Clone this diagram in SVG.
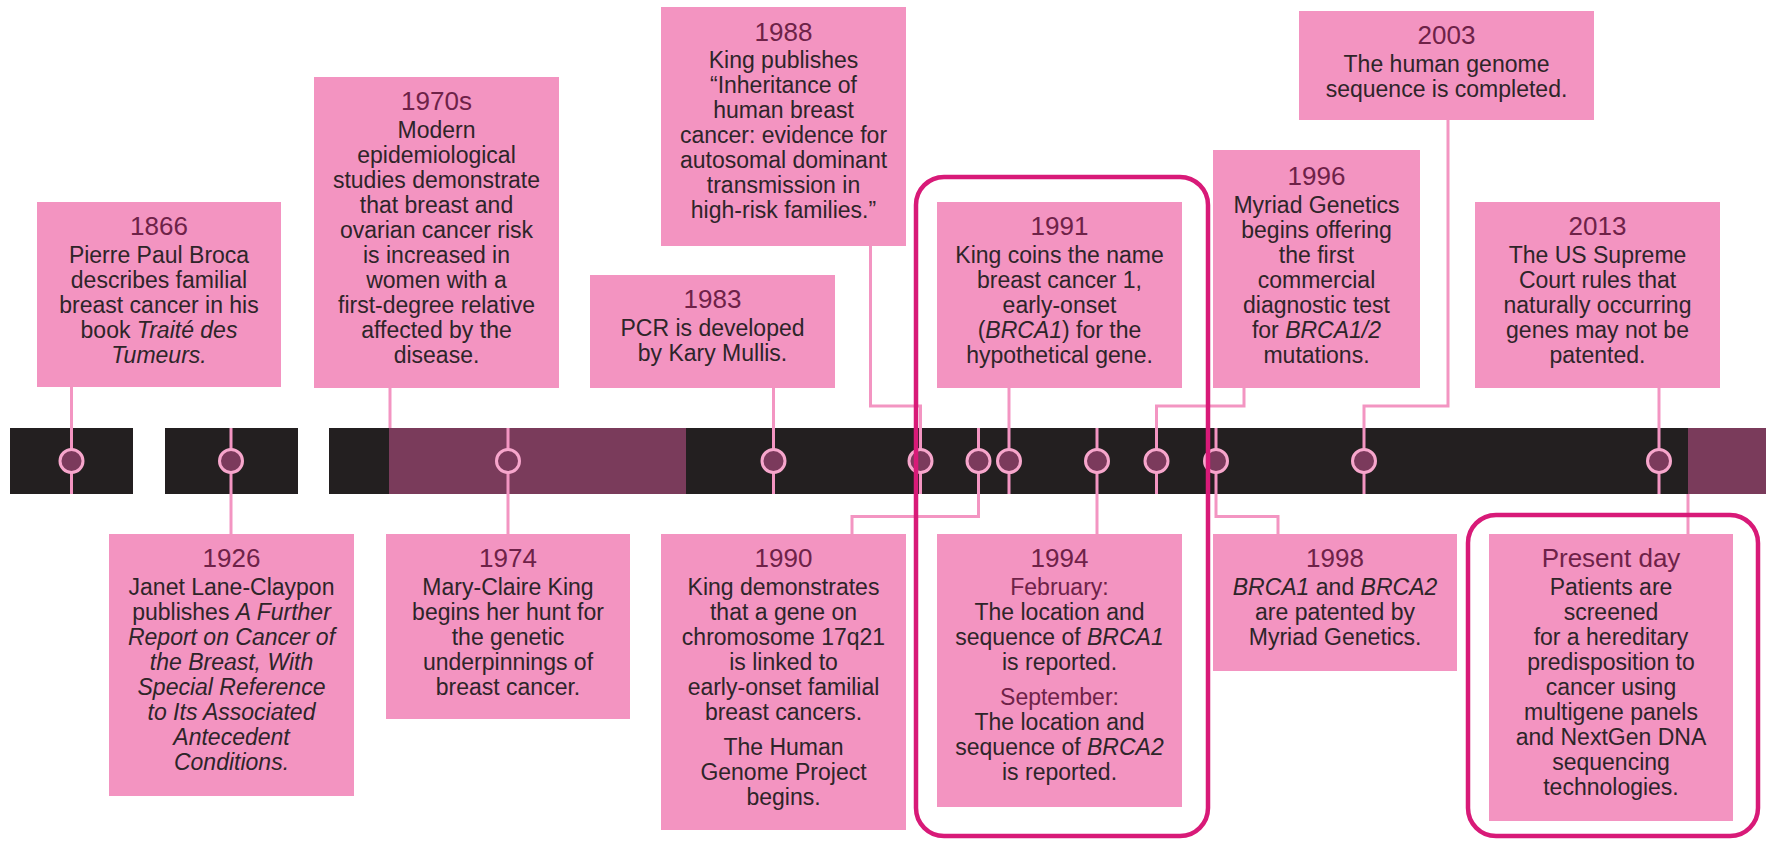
<svg xmlns="http://www.w3.org/2000/svg" width="1771" height="841" viewBox="0 0 1771 841">
<style>
.box{fill:#f394c1}
.yr{font-family:"Liberation Sans",Arial,sans-serif;font-size:26px;fill:#6e2248;text-anchor:middle}
.bd{font-family:"Liberation Sans",Arial,sans-serif;font-size:23px;fill:#2e2529;text-anchor:middle}
.mo{fill:#6e2248}
.it{font-style:italic}
.con{fill:none;stroke:#f395c2;stroke-width:3}
.dot{fill:#7b3a5c;stroke:#f7a6cc;stroke-width:3}
.hl{fill:none;stroke:#d81a78;stroke-width:4.5}
.blk{fill:#231f20}
.pur{fill:#7a3b5b}
</style>
<rect width="1771" height="841" fill="#ffffff"/>
<g id="bar">
<rect class="blk" x="10" y="428" width="123" height="66"/>
<rect class="blk" x="165" y="428" width="133" height="66"/>
<rect class="blk" x="329" y="428" width="60" height="66"/>
<rect class="pur" x="389" y="428" width="297" height="66"/>
<rect class="blk" x="686" y="428" width="1002" height="66"/>
<rect class="pur" x="1688" y="428" width="78" height="66"/>
</g>
<g id="connectors">
<path class="con" d="M71.5,387V494"/>
<path class="con" d="M231,428V534"/>
<path class="con" d="M390,387V428"/>
<path class="con" d="M508,428V534"/>
<path class="con" d="M773.5,388V494"/>
<path class="con" d="M870.5,246V406H920.5V494"/>
<path class="con" d="M978.5,428V516.5H852V534"/>
<path class="con" d="M1009,388V494"/>
<path class="con" d="M1097,428V534"/>
<path class="con" d="M1244,388V406H1156.5V494"/>
<path class="con" d="M1216,428V516.5H1278V534"/>
<path class="con" d="M1448,120V406H1364V494"/>
<path class="con" d="M1659,388V494"/>
<path class="con" d="M1688,494V534"/>
<circle class="dot" cx="71.5" cy="461" r="11.5"/>
<circle class="dot" cx="231" cy="461" r="11.5"/>
<circle class="dot" cx="508" cy="461" r="11.5"/>
<circle class="dot" cx="773.5" cy="461" r="11.5"/>
<circle class="dot" cx="920.5" cy="461" r="11.5"/>
<circle class="dot" cx="978.5" cy="461" r="11.5"/>
<circle class="dot" cx="1009" cy="461" r="11.5"/>
<circle class="dot" cx="1097" cy="461" r="11.5"/>
<circle class="dot" cx="1156.5" cy="461" r="11.5"/>
<circle class="dot" cx="1216" cy="461" r="11.5"/>
<circle class="dot" cx="1364" cy="461" r="11.5"/>
<circle class="dot" cx="1659" cy="461" r="11.5"/>
</g>
<g id="n1866">
<rect class="box" x="37" y="202" width="244" height="185"/>
<text class="yr" x="159" y="235">1866</text>
<text class="bd"><tspan x="159" y="263">Pierre Paul Broca</tspan><tspan x="159" y="288">describes familial</tspan><tspan x="159" y="313">breast cancer in his</tspan><tspan x="159" y="338">book <tspan class="it">Traité des</tspan></tspan><tspan x="159" y="363" class="it">Tumeurs.</tspan></text>
</g>
<g id="n1970s">
<rect class="box" x="314" y="77" width="245" height="311"/>
<text class="yr" x="436.5" y="110">1970s</text>
<text class="bd"><tspan x="436.5" y="138">Modern</tspan><tspan x="436.5" y="163">epidemiological</tspan><tspan x="436.5" y="188">studies demonstrate</tspan><tspan x="436.5" y="213">that breast and</tspan><tspan x="436.5" y="238">ovarian cancer risk</tspan><tspan x="436.5" y="263">is increased in</tspan><tspan x="436.5" y="288">women with a</tspan><tspan x="436.5" y="313">first-degree relative</tspan><tspan x="436.5" y="338">affected by the</tspan><tspan x="436.5" y="363">disease.</tspan></text>
</g>
<g id="n1983">
<rect class="box" x="590" y="275" width="245" height="113"/>
<text class="yr" x="712.5" y="308">1983</text>
<text class="bd"><tspan x="712.5" y="336">PCR is developed</tspan><tspan x="712.5" y="361">by Kary Mullis.</tspan></text>
</g>
<g id="n1988">
<rect class="box" x="661" y="7" width="245" height="239"/>
<text class="yr" x="783.5" y="41">1988</text>
<text class="bd"><tspan x="783.5" y="68">King publishes</tspan><tspan x="783.5" y="93">“Inheritance of</tspan><tspan x="783.5" y="118">human breast</tspan><tspan x="783.5" y="143">cancer: evidence for</tspan><tspan x="783.5" y="168">autosomal dominant</tspan><tspan x="783.5" y="193">transmission in</tspan><tspan x="783.5" y="218">high-risk families.”</tspan></text>
</g>
<g id="n1991">
<rect class="box" x="937" y="202" width="245" height="186"/>
<text class="yr" x="1059.5" y="235">1991</text>
<text class="bd"><tspan x="1059.5" y="263">King coins the name</tspan><tspan x="1059.5" y="288">breast cancer 1,</tspan><tspan x="1059.5" y="313">early-onset</tspan><tspan x="1059.5" y="338">(<tspan class="it">BRCA1</tspan>) for the</tspan><tspan x="1059.5" y="363">hypothetical gene.</tspan></text>
</g>
<g id="n1996">
<rect class="box" x="1213" y="150" width="207" height="238"/>
<text class="yr" x="1316.5" y="185">1996</text>
<text class="bd"><tspan x="1316.5" y="213">Myriad Genetics</tspan><tspan x="1316.5" y="238">begins offering</tspan><tspan x="1316.5" y="263">the first</tspan><tspan x="1316.5" y="288">commercial</tspan><tspan x="1316.5" y="313">diagnostic test</tspan><tspan x="1316.5" y="338">for <tspan class="it">BRCA1/2</tspan></tspan><tspan x="1316.5" y="363">mutations.</tspan></text>
</g>
<g id="n2003">
<rect class="box" x="1299" y="11" width="295" height="109"/>
<text class="yr" x="1446.5" y="44">2003</text>
<text class="bd"><tspan x="1446.5" y="72">The human genome</tspan><tspan x="1446.5" y="97">sequence is completed.</tspan></text>
</g>
<g id="n2013">
<rect class="box" x="1475" y="202" width="245" height="186"/>
<text class="yr" x="1597.5" y="235">2013</text>
<text class="bd"><tspan x="1597.5" y="263">The US Supreme</tspan><tspan x="1597.5" y="288">Court rules that</tspan><tspan x="1597.5" y="313">naturally occurring</tspan><tspan x="1597.5" y="338">genes may not be</tspan><tspan x="1597.5" y="363">patented.</tspan></text>
</g>
<g id="n1926">
<rect class="box" x="109" y="534" width="245" height="262"/>
<text class="yr" x="231.5" y="567">1926</text>
<text class="bd"><tspan x="231.5" y="595">Janet Lane-Claypon</tspan><tspan x="231.5" y="620">publishes <tspan class="it">A Further</tspan></tspan><tspan x="231.5" y="645" class="it">Report on Cancer of</tspan><tspan x="231.5" y="670" class="it">the Breast, With</tspan><tspan x="231.5" y="695" class="it">Special Reference</tspan><tspan x="231.5" y="720" class="it">to Its Associated</tspan><tspan x="231.5" y="745" class="it">Antecedent</tspan><tspan x="231.5" y="770" class="it">Conditions.</tspan></text>
</g>
<g id="n1974">
<rect class="box" x="386" y="534" width="244" height="185"/>
<text class="yr" x="508" y="567">1974</text>
<text class="bd"><tspan x="508" y="595">Mary-Claire King</tspan><tspan x="508" y="620">begins her hunt for</tspan><tspan x="508" y="645">the genetic</tspan><tspan x="508" y="670">underpinnings of</tspan><tspan x="508" y="695">breast cancer.</tspan></text>
</g>
<g id="n1990">
<rect class="box" x="661" y="534" width="245" height="296"/>
<text class="yr" x="783.5" y="567">1990</text>
<text class="bd"><tspan x="783.5" y="595">King demonstrates</tspan><tspan x="783.5" y="620">that a gene on</tspan><tspan x="783.5" y="645">chromosome 17q21</tspan><tspan x="783.5" y="670">is linked to</tspan><tspan x="783.5" y="695">early-onset familial</tspan><tspan x="783.5" y="720">breast cancers.</tspan><tspan x="783.5" y="755">The Human</tspan><tspan x="783.5" y="780">Genome Project</tspan><tspan x="783.5" y="805">begins.</tspan></text>
</g>
<g id="n1994">
<rect class="box" x="937" y="534" width="245" height="273"/>
<text class="yr" x="1059.5" y="567">1994</text>
<text class="bd"><tspan x="1059.5" y="595" class="mo">February:</tspan><tspan x="1059.5" y="620">The location and</tspan><tspan x="1059.5" y="645">sequence of <tspan class="it">BRCA1</tspan></tspan><tspan x="1059.5" y="670">is reported.</tspan><tspan x="1059.5" y="705" class="mo">September:</tspan><tspan x="1059.5" y="730">The location and</tspan><tspan x="1059.5" y="755">sequence of <tspan class="it">BRCA2</tspan></tspan><tspan x="1059.5" y="780">is reported.</tspan></text>
</g>
<g id="n1998">
<rect class="box" x="1213" y="534" width="244" height="137"/>
<text class="yr" x="1335" y="567">1998</text>
<text class="bd"><tspan x="1335" y="595"><tspan class="it">BRCA1</tspan> and <tspan class="it">BRCA2</tspan></tspan><tspan x="1335" y="620">are patented by</tspan><tspan x="1335" y="645">Myriad Genetics.</tspan></text>
</g>
<g id="nPresent">
<rect class="box" x="1489" y="534" width="244" height="287"/>
<text class="yr" x="1611" y="567">Present day</text>
<text class="bd"><tspan x="1611" y="595">Patients are</tspan><tspan x="1611" y="620">screened</tspan><tspan x="1611" y="645">for a hereditary</tspan><tspan x="1611" y="670">predisposition to</tspan><tspan x="1611" y="695">cancer using</tspan><tspan x="1611" y="720">multigene panels</tspan><tspan x="1611" y="745">and NextGen DNA</tspan><tspan x="1611" y="770">sequencing</tspan><tspan x="1611" y="795">technologies.</tspan></text>
</g>
<g id="highlights">
<rect class="hl" x="916" y="177" width="292" height="659" rx="28"/>
<rect class="hl" x="1468" y="515" width="290" height="321" rx="28"/>
</g>
</svg>
